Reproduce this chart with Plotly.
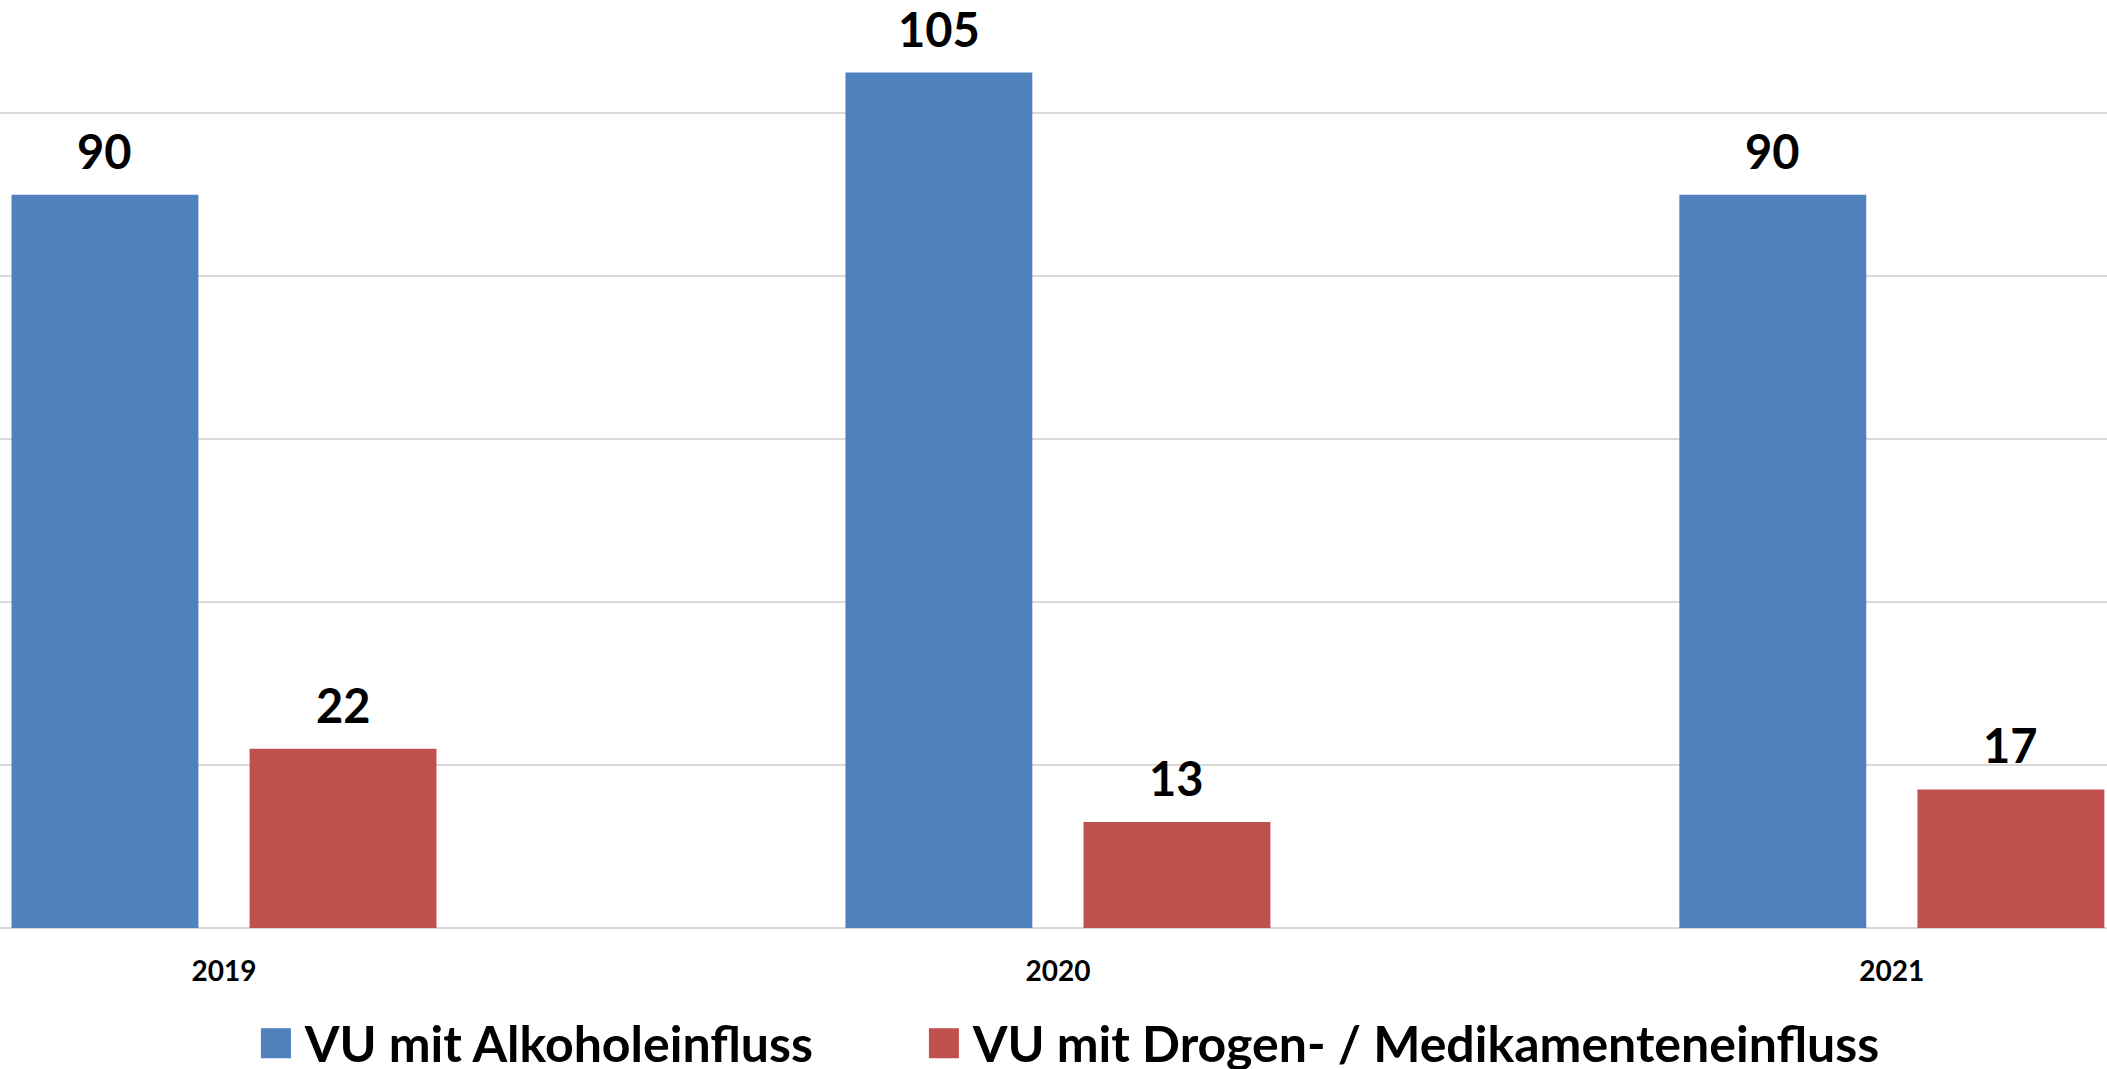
import plotly.graph_objects as go

years = ["2019", "2020", "2021"]
series_names = ["VU mit Alkoholeinfluss", "VU mit Drogen- / Medikamenteneinfluss"]
alkohol = [90, 105, 90]
drogen = [22, 13, 17]
colors = ["#4F81BD", "#C0504D"]

FONT = "Lato"
GRID = "#D9D9D9"
BARGAP = 0.429
LABEL_FONT = dict(family=FONT, size=47, color="black", weight="bold")

fig = go.Figure()
for name, vals, col in zip(series_names, [alkohol, drogen], colors):
    fig.add_trace(
        go.Bar(
            x=years,
            y=vals,
            name=name,
            marker=dict(color=col, line=dict(width=0)),
            showlegend=False,
        )
    )

# value labels: centred over each bar of the group, lifted a bit off the bar end
n_series = len(series_names)
slot = (1 - BARGAP) / n_series
for k, vals in enumerate([alkohol, drogen]):
    offset = (k - (n_series - 1) / 2) * slot
    for i, v in enumerate(vals):
        fig.add_annotation(
            x=i + offset, y=v, xref="x", yref="y",
            text=str(v), showarrow=False,
            xanchor="center", yanchor="bottom", yshift=14,
            font=LABEL_FONT,
        )

# legend drawn as text so the swatches can be as large as in the original
legend_x = [0.121, 0.438]
for name, col, lx in zip(series_names, colors, legend_x):
    fig.add_annotation(
        xref="paper", yref="paper", x=lx, y=-0.118,
        xanchor="left", yanchor="middle", showarrow=False,
        text=f"<span style='color:{col};font-size:62px'>■</span> {name}",
        font=dict(family=FONT, size=50, color="black", weight="bold"),
    )

fig.update_layout(
    barmode="group",
    bargap=BARGAP,
    bargroupgap=0.215,
    width=2107,
    height=1069,
    margin=dict(l=0, r=0, t=0, b=141),
    plot_bgcolor="white",
    paper_bgcolor="white",
    xaxis=dict(
        type="category",
        range=[-0.2686, 2.258],
        showgrid=False,
        ticks="outside",
        ticklen=18,
        tickcolor="rgba(0,0,0,0)",
        tickfont=dict(family=FONT, size=28, color="black", weight="bold"),
    ),
    yaxis=dict(
        range=[0, 113.9],
        dtick=20,
        showgrid=True,
        gridcolor=GRID,
        gridwidth=2,
        zeroline=True,
        zerolinecolor=GRID,
        zerolinewidth=2,
        showticklabels=False,
    ),
)

fig.write_html(
    "out.html",
    config={"displayModeBar": False},
    post_script="document.body.style.margin='0';",
)
